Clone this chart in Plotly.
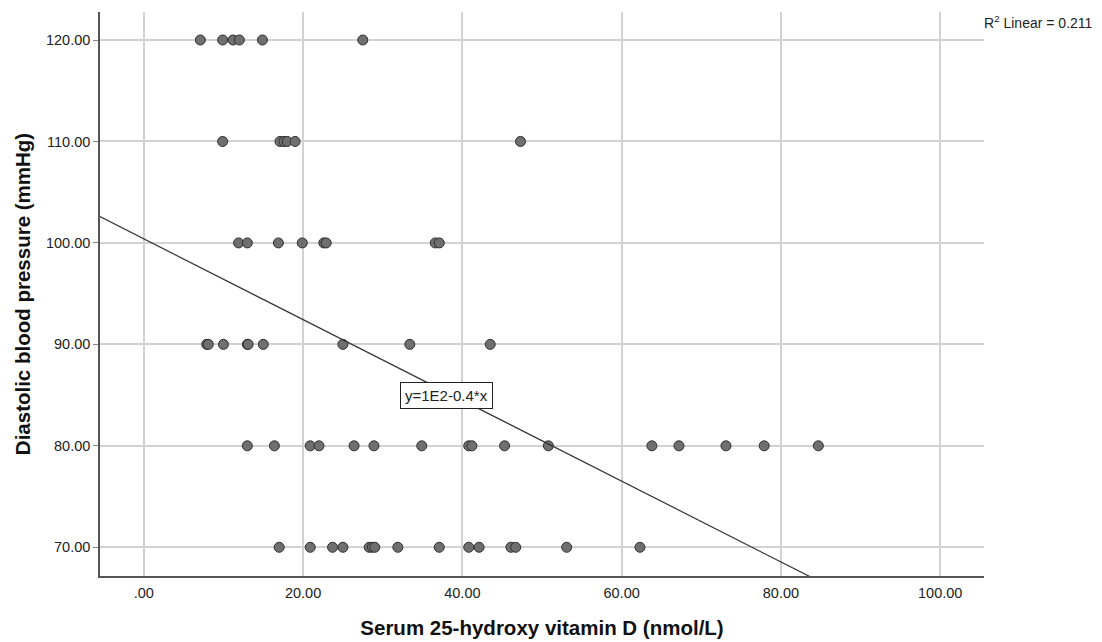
import plotly.graph_objects as go

# ---- data ----
dbp_levels = [120, 110, 100, 90, 80, 70]
vitd_120 = [7.1, 9.9, 11.2, 12.0, 14.9, 27.5]
vitd_110 = [9.9, 17.1, 17.6, 18.0, 19.0, 47.3]
vitd_100 = [11.9, 13.0, 16.9, 19.9, 22.6, 22.9, 36.6, 37.1]
vitd_90 = [7.9, 8.1, 10.0, 13.0, 13.1, 15.0, 25.0, 33.4, 43.5]
vitd_80 = [13.0, 16.4, 20.9, 22.0, 26.4, 28.9, 34.9, 40.8, 41.2, 45.3, 50.8,
           63.8, 67.2, 73.1, 77.9, 84.7]
vitd_70 = [17.0, 20.9, 23.7, 25.0, 28.3, 28.7, 29.0, 31.9, 37.1, 40.8, 42.1,
           46.1, 46.7, 53.1, 62.3]

fit_intercept = 100.4
fit_slope = -0.398
r2_linear = "0.211"

x_tickvals = [0, 20, 40, 60, 80, 100]
x_ticktext = [".00", "20.00", "40.00", "60.00", "80.00", "100.00"]
y_tickvals = [70, 80, 90, 100, 110, 120]
y_ticktext = ["70.00", "80.00", "90.00", "100.00", "110.00", "120.00"]

x_range = [-5.5, 105.5]
y_range = [67.17, 122.76]

# ---- build ----
rows = [vitd_120, vitd_110, vitd_100, vitd_90, vitd_80, vitd_70]
xs, ys = [], []
for lvl, vals in zip(dbp_levels, rows):
    xs.extend(vals)
    ys.extend([lvl] * len(vals))

FONT = "Arial, Liberation Sans, sans-serif"

fig = go.Figure()
fig.add_trace(go.Scatter(
    x=xs, y=ys, mode="markers",
    marker=dict(size=10, color="#6f6f6f", line=dict(color="#2e2e2e", width=1)),
    showlegend=False, hoverinfo="x+y",
))

line_x = [x_range[0], x_range[1]]
line_y = [fit_intercept + fit_slope * v for v in line_x]
fig.add_trace(go.Scatter(
    x=line_x, y=line_y, mode="lines",
    line=dict(color="#333333", width=1.2),
    showlegend=False, hoverinfo="skip",
))

fig.add_annotation(
    x=38.0, y=85.0, xref="x", yref="y",
    text="y=1E2-0.4*x", showarrow=False,
    font=dict(family=FONT, size=15, color="#222222"),
    bgcolor="white", bordercolor="#222222", borderwidth=1, borderpad=4,
)
fig.add_annotation(
    x=1.0, y=0.983, xref="paper", yref="paper", xanchor="left", yanchor="middle",
    xshift=-2,
    text=f"R<sup>2</sup> Linear = {r2_linear}", showarrow=False,
    font=dict(family=FONT, size=14, color="#222222"),
)

fig.update_layout(
    width=1094, height=634,
    margin=dict(l=92, r=118, t=4, b=66),
    paper_bgcolor="white", plot_bgcolor="white",
    font=dict(family=FONT, size=14.5, color="#222222"),
    xaxis=dict(
        range=x_range, tickvals=x_tickvals, ticktext=x_ticktext,
        showgrid=True, gridcolor="#d2d2d2", gridwidth=1.5,
        showline=True, linecolor="#555555", linewidth=1.5,
        zeroline=False, ticks="", ticklabelstandoff=3, automargin=False,
        tickfont=dict(family=FONT, size=14.5, color="#222222"),
        title=dict(text="<b>Serum 25-hydroxy vitamin D (nmol/L)</b>",
                   font=dict(family=FONT, size=20.5, color="#111111"), standoff=20),
    ),
    yaxis=dict(
        range=y_range, tickvals=y_tickvals, ticktext=y_ticktext,
        showgrid=True, gridcolor="#d2d2d2", gridwidth=1.5,
        showline=True, linecolor="#555555", linewidth=1.5,
        zeroline=False, ticks="outside", ticklen=5, tickcolor="#888888",
        automargin=False,
        tickfont=dict(family=FONT, size=14.5, color="#222222"),
        title=dict(text="<b>Diastolic blood pressure (mmHg)</b>",
                   font=dict(family=FONT, size=20.5, color="#111111"), standoff=10),
    ),
)

fig.write_html("out.html")
